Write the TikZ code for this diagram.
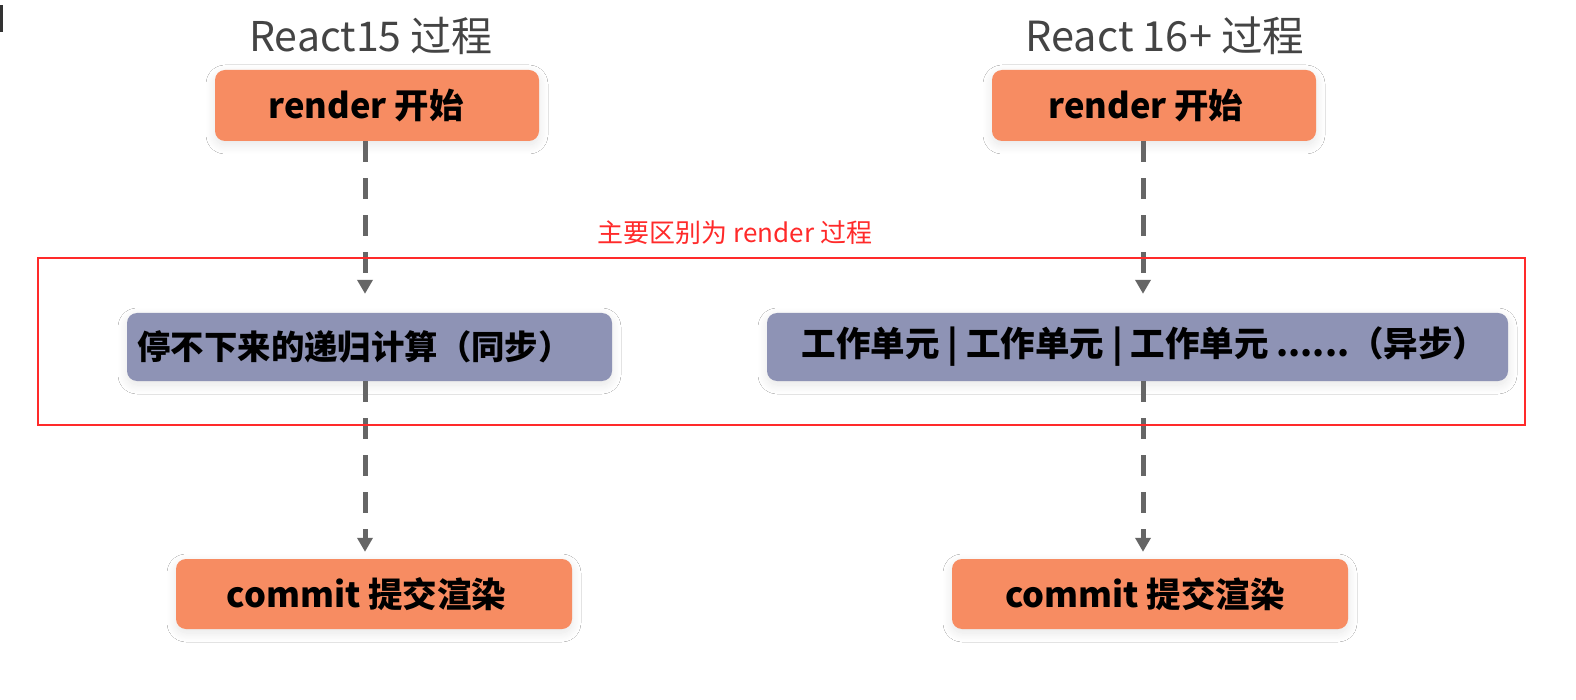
\documentclass[tikz,border=0pt]{standalone}
\usepackage{fontspec}
\setmainfont{Noto Sans CJK SC}
\usetikzlibrary{arrows.meta,shadows.blur}
\definecolor{boxorange}{HTML}{F78C62}
\definecolor{boxblue}{HTML}{8E93B5}
\definecolor{arrowgray}{HTML}{666666}
\definecolor{titlegray}{HTML}{444444}
\definecolor{diffred}{HTML}{FF2A2A}
\tikzset{
  stepbox/.style={rounded corners=10pt, inner sep=0pt, font=\fontsize{34.5}{38}\selectfont\bfseries, text=black,
    blur shadow={shadow xshift=0pt, shadow yshift=-4pt, shadow blur radius=9pt, shadow blur steps=12, shadow opacity=10}},
  orangebox/.style={stepbox, fill=boxorange},
  bluebox/.style={stepbox, fill=boxblue},
  flow/.style={draw=arrowgray, line width=5pt, dash pattern=on 21pt off 16pt,
    -{Triangle[width=15pt,length=14pt]}},
  title/.style={font=\fontsize{41}{44}\selectfont, text=titlegray}
}
\begin{document}
\begin{tikzpicture}[x=1pt,y=-1pt]
\useasboundingbox (0,0) rectangle (1576,700);
\fill[white] (0,0) rectangle (1576,700);
\fill[black!80] (0,5) rectangle (3,32);
% titles
\node[title] (t1) at (371,36) {React15 过程};
\node[title, font=\fontsize{41.5}{44}\selectfont] (t2) at (1165,36) {React 16+ 过程};
% left column
\node[orangebox, minimum width=324pt, minimum height=71pt] (r1) at (377,105.5) {\kern-22pt render 开始};
\node[bluebox, minimum width=485pt, minimum height=68pt, font=\fontsize{33.4}{37}\selectfont\bfseries] (s1) at (369.5,347) {\kern-30pt 停不下来的递归计算（同步）};
\node[orangebox, minimum width=396pt, minimum height=70pt] (c1) at (374,594) {\kern-15pt commit 提交渲染};
% right column
\node[orangebox, minimum width=324pt, minimum height=71pt] (r2) at (1154,105.5) {\kern-16pt render 开始};
\node[bluebox, minimum width=741pt, minimum height=68pt] (s2) at (1137.5,347) {\kern14pt 工作单元 | 工作单元 | 工作单元 ......（异步）};
\node[orangebox, minimum width=396pt, minimum height=70pt] (c2) at (1150,594) {\kern-10pt commit 提交渲染};
% columns
\coordinate (cL) at (365,0);
\coordinate (cR) at (1143,0);
% arrows
\draw[flow, shorten >=19pt] (r1.south -| cL) -- (s1.north -| cL);
\draw[flow, shorten >=7pt] (s1.south -| cL) -- (c1.north -| cL);
\draw[flow, shorten >=19pt] (r2.south -| cR) -- (s2.north -| cR);
\draw[flow, shorten >=7pt] (s2.south -| cR) -- (c2.north -| cR);
% highlight region
\node[draw=diffred, line width=1.2pt, minimum width=1487pt, minimum height=167pt, inner sep=0pt] (hl) at (781.5,341.5) {};
\node[font=\fontsize{26}{29}\selectfont, text=diffred] (hllabel) at (735,233) {主要区别为 render 过程};
\end{tikzpicture}
\end{document}
